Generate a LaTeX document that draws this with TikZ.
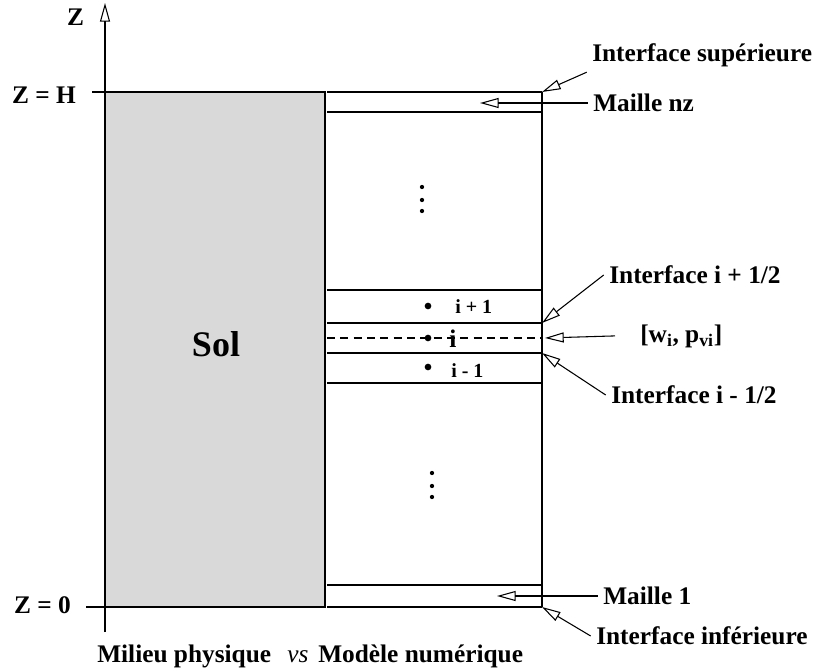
\documentclass[tikz,border=0pt]{standalone}
\usepackage{fontspec}
\setmainfont{Liberation Serif}
\usetikzlibrary{arrows.meta,positioning}

\begin{document}
\begin{tikzpicture}[x=0.75pt,y=-0.75pt,font=\fontsize{19}{22}\selectfont\bfseries]
\tikzset{
  lbl/.style={inner sep=4pt,anchor=west},
  tag/.style={inner sep=0pt},
  small/.style={inner sep=0pt,font=\fontsize{15}{18}\selectfont\bfseries},
  arr/.style={-{Triangle[open,length=14pt,width=7.5pt]},line width=0.8pt},
  mesh/.style={line width=0.9pt},
  pt/.style={circle,fill,inner sep=0pt,minimum size=5pt}
}
\useasboundingbox (0,0) rectangle (813,670);

% axe Z
\coordinate (zbot) at (105,632);
\coordinate (ztop) at (105,3);
\draw[arr] (zbot) -- (ztop);
\node[tag,anchor=base] (zlbl) at (75.5,26) {Z};
\node[tag,anchor=base east] (zH) at (76,104) {Z = H};
\node[tag,anchor=base east] (z0) at (71,613) {Z = 0};
\draw[mesh] (92,92) -- (105,92);
\draw[mesh] (86,607) -- (105,607);

% milieu physique
\filldraw[fill=gray!30,draw=black,line width=1.3pt] (105,92) rectangle (325,607);
\node[tag,anchor=base,font=\fontsize{27}{31}\selectfont\bfseries] (sol) at (216,356) {Sol};

% modele numerique
\foreach \y in {92,112,290,323,353,383,585,607}
  \draw[mesh] (327,\y) -- (542,\y);
\draw[mesh] (542,92) -- (542,607);
\draw[mesh,dash pattern=on 6pt off 4pt] (327,338) -- (542,338);
\coordinate (top) at (542,92);
\coordinate (ip) at (542,323);
\coordinate (im) at (542,353);
\coordinate (mid) at (545,338);
\coordinate (bot) at (542,607);
\coordinate (cnz) at (480,103);
\coordinate (c1) at (497,596);

\node[pt] (dp) at (428,306) {};
\node[pt] (di) at (428,338) {};
\node[pt] (dm) at (428,367) {};
\node[small,anchor=base west] (np) at (455,313) {i + 1};
\node[tag,anchor=base] (ni) at (453,347) {i};
\node[small,anchor=base west] (nm) at (451,377) {i - 1};
\foreach \y in {187,200,211} \fill (422,\y) circle (1.6pt);
\foreach \y in {473,486,497} \fill (432,\y) circle (1.6pt);

% etiquettes
\node[lbl] (lsup) at (586.7,55) {Interface supérieure};
\node[lbl] (lnz) at (587.7,103) {Maille nz};
\node[lbl] (lip) at (603.7,275) {Interface i + 1/2};
\node[tag,inner xsep=18.75pt,anchor=base west] (lw) at (615,342) {[w\textsubscript{i}, p\textsubscript{vi}]};
\node[lbl] (lim) at (605.7,395) {Interface i - 1/2};
\node[lbl] (l1) at (597.7,596) {Maille 1};
\node[lbl] (linf) at (590.7,636) {Interface inférieure};

\draw[arr] (lsup.south west) -- (top);
\draw[arr] (lnz.west) -- (cnz);
\draw[arr] (lip.west) -- (ip);
\draw[arr] (lw.west) -- (mid);
\draw[arr] (lim.west) -- (im);
\draw[arr] (l1.west) -- (c1);
\draw[arr] (linf.west) -- (bot);

\node[tag,anchor=base west] (mil) at (97,662) {Milieu physique};
\node[tag,anchor=base west,font=\fontsize{19}{22}\selectfont\mdseries\itshape] (vs) at (287,662) {vs};
\node[tag,anchor=base west] (mod) at (318,662) {Modèle numérique};
\end{tikzpicture}
\end{document}
